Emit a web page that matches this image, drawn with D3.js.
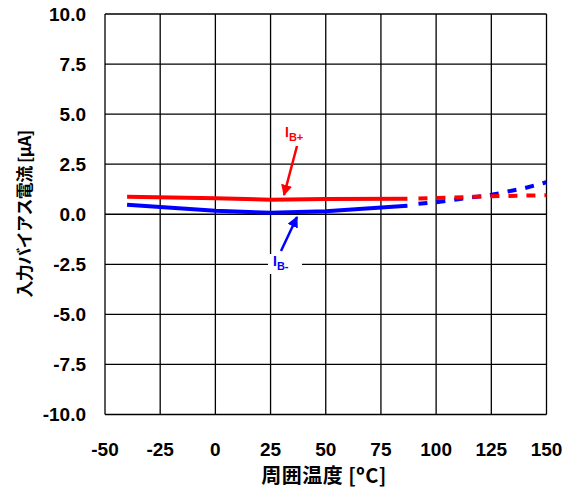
<!DOCTYPE html>
<html>
<head>
<meta charset="utf-8">
<script src="https://cdn.jsdelivr.net/npm/d3@7"></script>
<style>
  body { margin: 0; background: #fff; }
  text { font-family: "Liberation Sans", Arial, sans-serif; font-weight: bold; }
</style>
</head>
<body>
<svg id="chart" width="565" height="492"></svg>
<script>
// data
var xTicks = [-50, -25, 0, 25, 50, 75, 100, 125, 150];
var yTicks = [10, 7.5, 5, 2.5, 0, -2.5, -5, -7.5, -10];

var ibPlusSolid = [[-40, 0.87], [0, 0.8], [25, 0.73], [50, 0.76], [87, 0.78]];
var ibPlusDash = [[92, 0.79], [100, 0.81], [125, 0.9], [150, 0.95]];
var ibMinusSolid = [[-40, 0.47], [0, 0.17], [25, 0.07], [50, 0.15], [87, 0.43]];
var ibMinusDash = [[92, 0.52], [100, 0.6], [110, 0.75], [125, 0.97], [140, 1.3], [150, 1.6]];

var svg = d3.select('#chart');

// plot box (note: "top" is reserved on window, so use other names)
var pLeft = 105, pRight = 546.5, pTop = 14, pBottom = 414.5;

var xScale = d3.scaleLinear().domain([-50, 150]).range([pLeft, pRight]);
var yScale = d3.scaleLinear().domain([-10, 10]).range([pBottom, pTop]);

// grid
var grid = svg.append('g');
grid.selectAll('.vx')
  .data(xTicks)
  .enter()
  .append('line')
  .attr('x1', d => xScale(d))
  .attr('x2', d => xScale(d))
  .attr('y1', pTop)
  .attr('y2', pBottom)
  .style('stroke', '#000')
  .style('stroke-width', 1.3);

grid.selectAll('.hy')
  .data(yTicks)
  .enter()
  .append('line')
  .attr('x1', pLeft)
  .attr('x2', pRight)
  .attr('y1', d => yScale(d))
  .attr('y2', d => yScale(d))
  .style('stroke', '#000')
  .style('stroke-width', 1.3);

// tick labels
svg.append('g')
  .selectAll('text')
  .data(yTicks)
  .enter()
  .append('text')
  .attr('x', 86)
  .attr('y', d => yScale(d) + 6.5)
  .attr('text-anchor', 'end')
  .style('font-size', '19px')
  .text(d => d.toFixed(1));

svg.append('g')
  .selectAll('text')
  .data(xTicks)
  .enter()
  .append('text')
  .attr('x', d => xScale(d))
  .attr('y', 456)
  .attr('text-anchor', 'middle')
  .style('font-size', '19px')
  .text(d => d);

// axis titles
svg.append('text')
  .attr('x', 324)
  .attr('y', 483)
  .attr('text-anchor', 'middle')
  .style('font-family', '"Noto Sans CJK JP", sans-serif')
  .style('font-size', '20px')
  .style('letter-spacing', '0.5px')
  .text('周囲温度 [ºC]');

svg.append('text')
  .attr('transform', 'translate(31,' + 214 + ') rotate(-90)')
  .attr('text-anchor', 'middle')
  .style('font-family', '"Noto Sans CJK JP", sans-serif')
  .style('font-size', '17px')
  .style('letter-spacing', '-0.6px')
  .text('入力バイアス電流 [µA]');

// curves
var line = d3.line()
  .x(d => xScale(d[0]))
  .y(d => yScale(d[1]));

var curves = [
  { data: ibMinusSolid, color: '#0000ff', dash: null },
  { data: ibMinusDash, color: '#0000ff', dash: '9,9' },
  { data: ibPlusSolid, color: '#ff0000', dash: null },
  { data: ibPlusDash, color: '#ff0000', dash: '9,9' }
];

svg.append('g')
  .selectAll('path')
  .data(curves)
  .enter()
  .append('path')
  .attr('d', d => line(d.data))
  .style('fill', 'none')
  .style('stroke', d => d.color)
  .style('stroke-width', 4)
  .style('stroke-dasharray', d => d.dash);

// annotations
var defs = svg.append('defs');
['red', 'blue'].forEach(function (c) {
  defs.append('marker')
    .attr('id', 'arrow-' + c)
    .attr('viewBox', '0 0 10 10')
    .attr('refX', 9)
    .attr('refY', 5)
    .attr('markerWidth', 4.5)
    .attr('markerHeight', 4.5)
    .attr('markerUnits', 'strokeWidth')
    .attr('orient', 'auto')
    .append('path')
    .attr('d', 'M0,0 L10,5 L0,10 z')
    .style('fill', c === 'red' ? '#ff0000' : '#0000ff');
});

svg.append('line')
  .attr('x1', 297).attr('y1', 146)
  .attr('x2', 284).attr('y2', 195)
  .style('stroke', '#ff0000')
  .style('stroke-width', 2.5)
  .attr('marker-end', 'url(#arrow-red)');

svg.append('line')
  .attr('x1', 281).attr('y1', 251)
  .attr('x2', 297).attr('y2', 217)
  .style('stroke', '#0000ff')
  .style('stroke-width', 2.5)
  .attr('marker-end', 'url(#arrow-blue)');

var labPlus = svg.append('text')
  .attr('x', 285)
  .attr('y', 137)
  .style('fill', '#ff0000')
  .style('font-size', '14px');
labPlus.append('tspan').text('I');
labPlus.append('tspan').attr('dy', 4).style('font-size', '11px').text('B+');

svg.append('rect')
  .attr('x', 268).attr('y', 254)
  .attr('width', 34).attr('height', 20)
  .style('fill', '#fff');

var labMinus = svg.append('text')
  .attr('x', 273)
  .attr('y', 266)
  .style('fill', '#0000ff')
  .style('font-size', '14px');
labMinus.append('tspan').text('I');
labMinus.append('tspan').attr('dy', 4).style('font-size', '11px').text('B-');
</script>
</body>
</html>
